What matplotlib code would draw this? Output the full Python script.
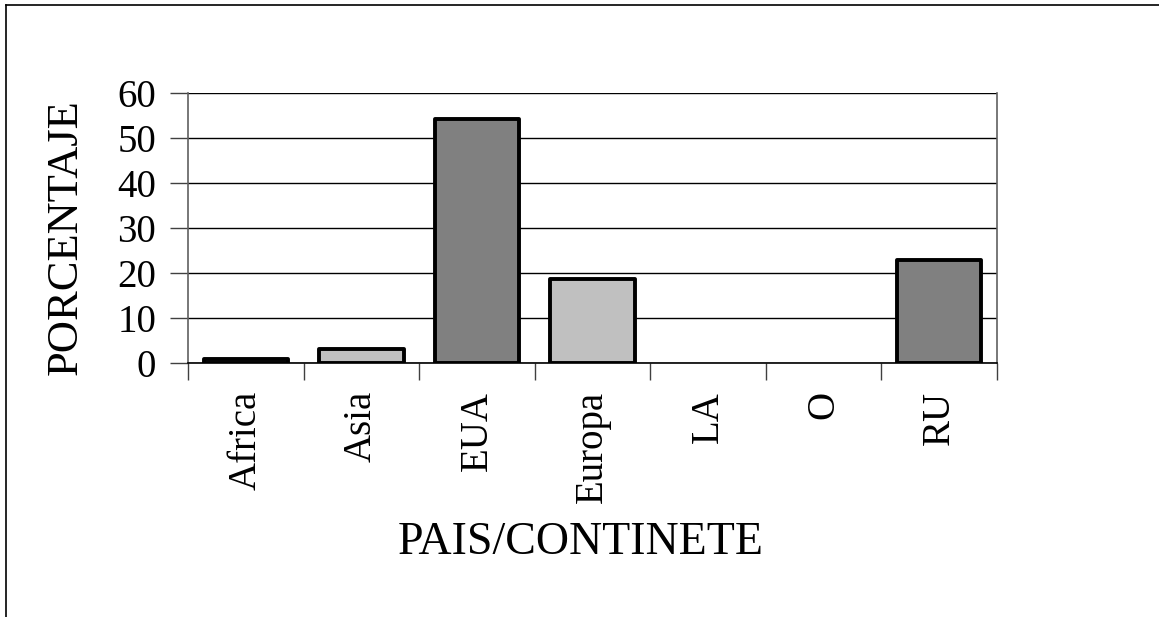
import matplotlib
matplotlib.use("Agg")
import matplotlib.pyplot as plt
from matplotlib.lines import Line2D

categories = ["Africa", "Asia", "EUA", "Europa", "LA", "O", "RU"]
values = [0.8, 3.2, 54.2, 18.6, 0.0, 0.0, 22.8]
fills = ["#808080", "#C0C0C0", "#808080", "#C0C0C0", "#808080", "#C0C0C0", "#808080"]
y_ticks = [0, 10, 20, 30, 40, 50, 60]

plt.rcParams["font.family"] = ["Liberation Serif", "DejaVu Serif"]

W, H = 1159, 617
fig = plt.figure(figsize=(W / 100, H / 100), dpi=100)
fig.patch.set_facecolor("white")

# frame around the chart area (top and left edges)
fig.add_artist(Line2D([6 / W, 1.0], [1 - 4.5 / H, 1 - 4.5 / H], color="black", lw=1.2,
                      transform=fig.transFigure))
fig.add_artist(Line2D([6 / W, 6 / W], [0.0, 1 - 4.5 / H], color="black", lw=1.2,
                      transform=fig.transFigure))

ax = fig.add_axes([188 / W, (H - 363) / H, (997 - 188) / W, (363 - 93) / H])

x = range(len(categories))
edge_widths = [2.8 if v > 0 else 0.0 for v in values]
ax.bar(x, values, width=0.73, color=fills, edgecolor="black", linewidth=edge_widths,
       zorder=3, joinstyle="round")

ax.set_xlim(-0.5, len(categories) - 0.5)
ax.set_ylim(0, 60)
ax.set_yticks(y_ticks)
ax.set_yticklabels([str(v) for v in y_ticks], fontsize=28)
ax.yaxis.grid(True, color="black", linewidth=1.0, zorder=0)
ax.set_axisbelow(True)

# category boundaries as outward ticks
ax.set_xticks([i - 0.5 for i in range(len(categories) + 1)])
ax.set_xticklabels([])
ax.set_xticks(list(x), minor=True)
ax.set_xticklabels(categories, minor=True, rotation=90, fontsize=28, va="top", ha="center")
ax.tick_params(axis="x", which="major", direction="out", length=12, width=1.0, color="#404040")
ax.tick_params(axis="x", which="minor", length=0, pad=20)
ax.tick_params(axis="y", direction="out", length=13, width=1.0, color="#404040", pad=10)

for side in ("left", "right"):
    ax.spines[side].set_color("#606060")
    ax.spines[side].set_linewidth(1.2)
ax.spines["bottom"].set_color("black")
ax.spines["bottom"].set_linewidth(1.2)
ax.spines["top"].set_visible(False)

fig.text(581 / W, 1 - 543 / H, "PAIS/CONTINETE", fontsize=33, ha="center", va="center")
fig.text(66 / W, 1 - 237 / H, "PORCENTAJE", fontsize=32, ha="center", va="center",
         rotation=90)

fig.savefig("out.png", dpi=100, facecolor="white")
